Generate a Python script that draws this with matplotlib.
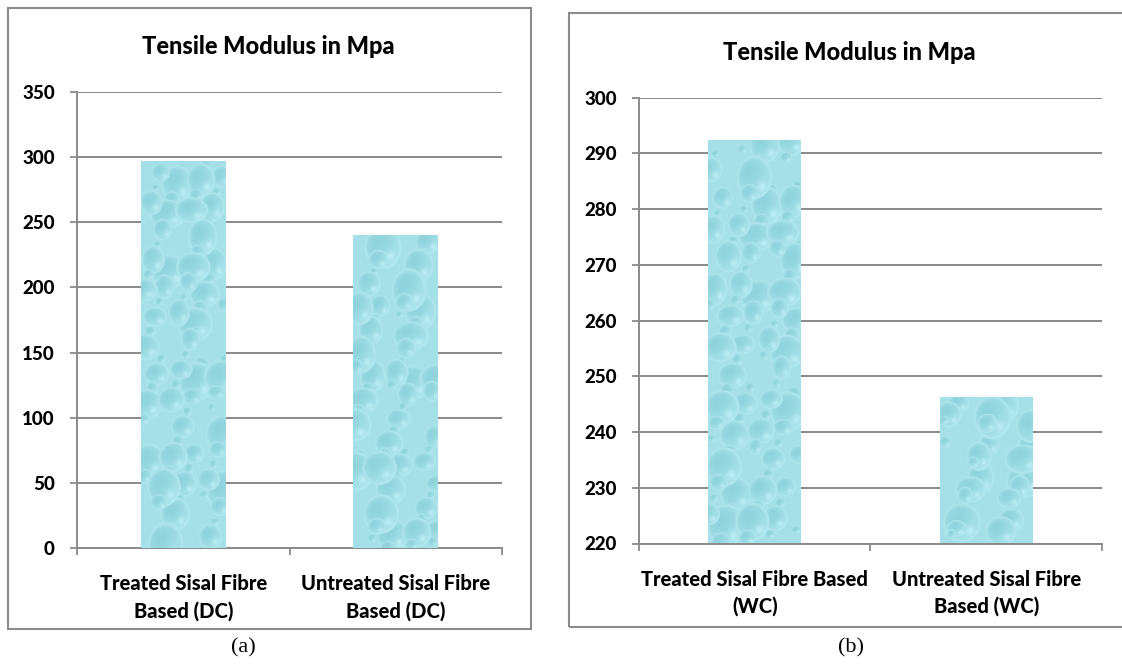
import numpy as np
import matplotlib
matplotlib.use("Agg")
import matplotlib.pyplot as plt
from matplotlib.patches import Rectangle

# Tensile modulus (MPa) for the two curing conditions
title = "Tensile Modulus in Mpa"
cats_dc = ["Treated Sisal Fibre\nBased (DC)", "Untreated Sisal Fibre\nBased (DC)"]
vals_dc = [297, 240]
cats_wc = ["Treated Sisal Fibre Based\n(WC)", "Untreated Sisal Fibre\nBased (WC)"]
vals_wc = [292.4, 246.3]
yticks_dc = [0, 50, 100, 150, 200, 250, 300, 350]
yticks_wc = [220, 230, 240, 250, 260, 270, 280, 290, 300]
captions = ["(a)", "(b)"]

W, H = 1122, 664
fig = plt.figure(figsize=(W / 100, H / 100), dpi=100)
fig.patch.set_facecolor("white")

GRID = "#8a8a8a"
FONT = "Lato"
WEIGHT = "black"


def water_texture(h, w, seed_shift=0.0):
    """Light cyan surface covered with shaded droplets."""
    yy, xx = np.mgrid[0:h, 0:w].astype(float)
    base = np.array([0.65, 0.88, 0.91])
    shade = np.zeros((h, w))
    n = int(w * h / 420)
    for k in range(1, n + 1):
        cx = ((k * 0.6180339 + seed_shift) % 1.0) * w
        cy = ((k * 0.7548777 + seed_shift * 0.5) % 1.0) * h
        r = 4.0 + 16.0 * ((k * 0.5698403) % 1.0) ** 1.5
        ry = r * (0.75 + 0.5 * ((k * 0.3247) % 1.0))
        dx = (xx - cx) / r
        dy = (yy - cy) / ry
        d2 = dx * dx + dy * dy
        inside = d2 < 1.0
        if not inside.any():
            continue
        # dark upper-left body, bright lower-right highlight
        val = -0.12 * (1 - d2) * (0.6 - 0.6 * (dx + dy)) + 0.10 * np.exp(-((dx - 0.4) ** 2 + (dy - 0.4) ** 2) / 0.05)
        rim = 0.05 * np.exp(-((np.sqrt(d2) - 0.92) ** 2) / 0.004)
        shade = np.where(inside, val + rim, shade)
    shade = np.clip(shade, -0.25, 0.2)
    img = base[None, None, :] + shade[:, :, None] * np.array([0.9, 0.55, 0.5])[None, None, :]
    return np.clip(img, 0, 1)


def panel(rect, frame, cats, vals, yticks, caption, cap_x, title_xy, shift):
    ax = fig.add_axes(rect)
    lo, hi = yticks[0], yticks[-1]
    x = np.arange(len(cats))
    bars = ax.bar(x, np.array(vals) - lo, bottom=lo, width=0.4,
                  color="#a9e1e8", edgecolor="none", zorder=2)
    for i, b in enumerate(bars):
        x0, y0 = b.get_x(), b.get_y()
        bw, bh = b.get_width(), b.get_height()
        px_w = int(rect[2] * W * bw / len(cats)) + 2
        px_h = int(rect[3] * H * bh / (hi - lo)) + 2
        tex = water_texture(px_h, px_w, shift + 0.37 * i)
        im = ax.imshow(tex, extent=(x0, x0 + bw, y0, y0 + bh), aspect="auto",
                       zorder=3, interpolation="bilinear")
        im.set_clip_path(b)
    ax.set_xlim(-0.5, len(cats) - 0.5)
    ax.set_ylim(lo, hi)
    ax.set_yticks(yticks)
    ax.set_yticklabels([str(t) for t in yticks], fontfamily=FONT,
                       fontweight=WEIGHT, fontsize=13.5)
    ax.yaxis.grid(True, color=GRID, linewidth=1.4, zorder=1)
    ax.set_axisbelow(True)
    ax.set_xticks(np.arange(len(cats) + 1) - 0.5)
    ax.set_xticklabels([])
    ax.set_xticks(x, minor=True)
    ax.set_xticklabels(cats, minor=True, fontfamily=FONT, fontweight=WEIGHT,
                       fontsize=14.5, linespacing=1.45)
    ax.tick_params(axis="x", which="minor", length=0, pad=19)
    ax.tick_params(axis="x", which="major", length=5, width=1.3, color=GRID)
    ax.tick_params(axis="y", length=5, width=1.3, color=GRID, pad=11)
    for s in ("top", "right"):
        ax.spines[s].set_visible(False)
    for s in ("left", "bottom"):
        ax.spines[s].set_color(GRID)
        ax.spines[s].set_linewidth(1.4)
    ax.patch.set_alpha(0)
    # chart frame and title
    fx0, fy0, fx1, fy1 = frame
    fig.patches.append(Rectangle((fx0 / W, 1 - fy1 / H), (fx1 - fx0) / W, (fy1 - fy0) / H,
                                 transform=fig.transFigure, fill=False,
                                 edgecolor="#8c8c8c", linewidth=1.5, zorder=0))
    fig.text(title_xy[0] / W, 1 - title_xy[1] / H, title,
             ha="center", va="center", fontfamily=FONT, fontweight=WEIGHT, fontsize=17)
    fig.text(cap_x / W, 1 - 648 / H, caption, ha="center", va="center",
             fontfamily="Liberation Serif", fontsize=16)
    return ax


panel([77 / W, 1 - 548 / H, 425 / W, 456 / H], (8, 8, 531, 629),
      cats_dc, vals_dc, yticks_dc, captions[0], 243, (268, 46), 0.0)
panel([639 / W, 1 - 543.5 / H, 463 / W, 445.8 / H], (569, 13, 1135, 627),
      cats_wc, vals_wc, yticks_wc, captions[1], 851, (849, 53), 0.21)

fig.savefig("out.png", dpi=100)
